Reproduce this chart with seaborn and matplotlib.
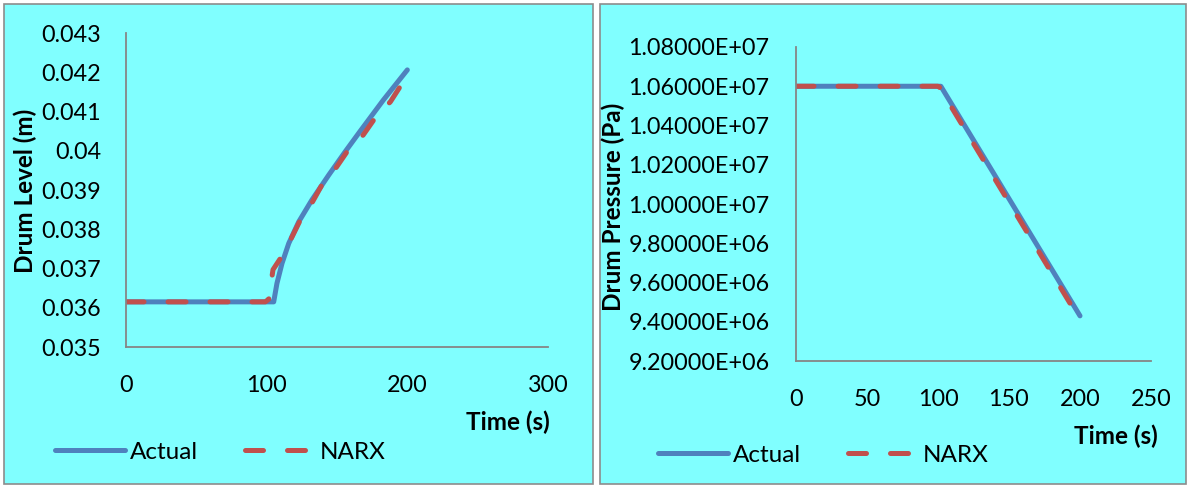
import numpy as np
import pandas as pd
import matplotlib
matplotlib.use("Agg")
import matplotlib.pyplot as plt
from matplotlib.patches import Rectangle
from matplotlib.ticker import FuncFormatter
import seaborn as sns

# ---------------- data ----------------
level_time_actual = [0, 50, 105, 107.3, 110.9, 115.7, 122.8, 132.2, 144.1, 155.9, 166.3, 182.9, 200]
level_actual = [0.03615, 0.03615, 0.03615, 0.03662, 0.03713, 0.03764, 0.03819, 0.03875,
                0.03938, 0.03998, 0.04049, 0.04129, 0.04206]
level_time_narx = [0, 50, 99, 101.5, 103, 104.5, 110, 117, 124, 132, 139.3, 149, 158, 168.6, 177, 188, 200]
level_narx = [0.03615, 0.03615, 0.03615, 0.03622, 0.0366, 0.03697, 0.03727, 0.03773, 0.03824,
              0.03866, 0.03913, 0.03955, 0.04002, 0.0404, 0.04083, 0.04125, 0.04192]

press_time_actual = [0, 50, 102, 200]
press_actual = [1.06e7, 1.06e7, 1.06e7, 9.43e6]
press_time_narx = [0, 50, 100, 101, 200]
press_narx = [1.06e7, 1.06e7, 1.06e7, 1.0595e7, 9.41e6]

level_yticks = [0.035, 0.036, 0.037, 0.038, 0.039, 0.04, 0.041, 0.042, 0.043]
level_ylabels = ["0.035", "0.036", "0.037", "0.038", "0.039", "0.04", "0.041", "0.042", "0.043"]
level_xticks = [0, 100, 200, 300]
press_yticks = [9.2e6, 9.4e6, 9.6e6, 9.8e6, 1.0e7, 1.02e7, 1.04e7, 1.06e7, 1.08e7]
press_xticks = [0, 50, 100, 150, 200, 250]
series_names = ["Actual", "NARX"]

BG = "#80FFFF"
BLUE = "#4F81BD"
RED = "#C0504D"
AXC = "#868686"

sns.set_theme(style="white")
plt.rcParams["font.family"] = ["Lato", "DejaVu Sans"]
plt.rcParams["text.color"] = "black"
plt.rcParams["xtick.color"] = "black"
plt.rcParams["ytick.color"] = "black"

W, H = 1188, 486
fig = plt.figure(figsize=(W / 100, H / 100), dpi=100)
fig.patch.set_facecolor("white")

def fx(px):
    return px / W

def fy(py):
    return 1 - py / H

# panel backgrounds
for (x0, x1) in [(4, 593), (600, 1186)]:
    fig.patches.append(Rectangle((fx(x0), fy(484)), fx(x1 - x0), (484 - 4) / H,
                                 transform=fig.transFigure, facecolor=BG,
                                 edgecolor="#8C8C8C", linewidth=1.2, zorder=-5))

FS = 16.8
LFS = 17.5
LABFS = 17.5
LW = 3.6

def style_axes(ax):
    ax.set_facecolor("none")
    ax.set_zorder(2)
    for s in ["top", "right"]:
        ax.spines[s].set_visible(False)
    for s in ["left", "bottom"]:
        ax.spines[s].set_color(AXC)
        ax.spines[s].set_linewidth(1.3)
    ax.tick_params(length=0, labelsize=FS, colors="black")
    ax.grid(False)

def draw_lines(ax, tA, yA, tN, yN):
    dfA = pd.DataFrame({"t": tA, "v": yA})
    dfN = pd.DataFrame({"t": tN, "v": yN})
    sns.lineplot(data=dfA, x="t", y="v", ax=ax, color=BLUE, linewidth=LW,
                 label=series_names[0], solid_capstyle="round", solid_joinstyle="round",
                 sort=False)
    sns.lineplot(data=dfN, x="t", y="v", ax=ax, color=RED, linewidth=LW,
                 label=series_names[1], sort=False)
    ln = ax.lines[-1]
    ln.set_dashes([3.6, 4.8])
    ln.set_dash_capstyle("round")
    ln.set_dash_joinstyle("round")
    ax.set_xlabel("")
    ax.set_ylabel("")

# ---------------- left panel ----------------
ax1 = fig.add_axes([fx(126), fy(347), fx(548 - 126), (347 - 33) / H])
style_axes(ax1)
draw_lines(ax1, level_time_actual, level_actual, level_time_narx, level_narx)
ax1.set_xlim(0, 300)
ax1.set_ylim(0.035, 0.043)
ax1.set_xticks(level_xticks)
ax1.set_yticks(level_yticks)
ax1.set_yticklabels(level_ylabels)
ax1.tick_params(axis="y", pad=18)
ax1.tick_params(axis="x", pad=20)
ax1.legend_.remove()
fig.text(fx(25), fy(191), "Drum Level (m)", rotation=90, fontsize=LABFS, fontweight="bold",
         ha="center", va="center", color="black")
fig.text(fx(508), fy(422), "Time (s)", fontsize=LABFS, fontweight="bold", ha="center", va="center",
         color="black")

# ---------------- right panel ----------------
ax2 = fig.add_axes([fx(796), fy(361), fx(1151 - 796), (361 - 47) / H])
style_axes(ax2)
draw_lines(ax2, press_time_actual, press_actual, press_time_narx, press_narx)
ax2.set_xlim(0, 250)
ax2.set_ylim(9.2e6, 1.08e7)
ax2.set_xticks(press_xticks)
ax2.set_yticks(press_yticks)
ax2.yaxis.set_major_formatter(FuncFormatter(lambda v, p: "%.5E" % v))
ax2.tick_params(axis="y", pad=19)
ax2.tick_params(axis="x", pad=20)
ax2.legend_.remove()
fig.text(fx(613), fy(207), "Drum Pressure (Pa)", rotation=90, fontsize=LABFS, fontweight="bold",
         ha="center", va="center", color="black")
fig.text(fx(1116), fy(436), "Time (s)", fontsize=LABFS, fontweight="bold", ha="center", va="center",
         color="black")

# ---------------- legends ----------------
for ax, (lx, ly) in [(ax1, (55, 452)), (ax2, (658, 455))]:
    h, l = ax.get_legend_handles_labels()
    fig.legend(h, l, loc="center left", bbox_to_anchor=(fx(lx), fy(ly)),
               bbox_transform=fig.transFigure, ncol=2, frameon=False,
               fontsize=LFS, handlelength=2.9, handletextpad=0.2,
               columnspacing=1.9, borderaxespad=0, borderpad=0)

fig.savefig("out.png", dpi=100, facecolor=fig.get_facecolor())
